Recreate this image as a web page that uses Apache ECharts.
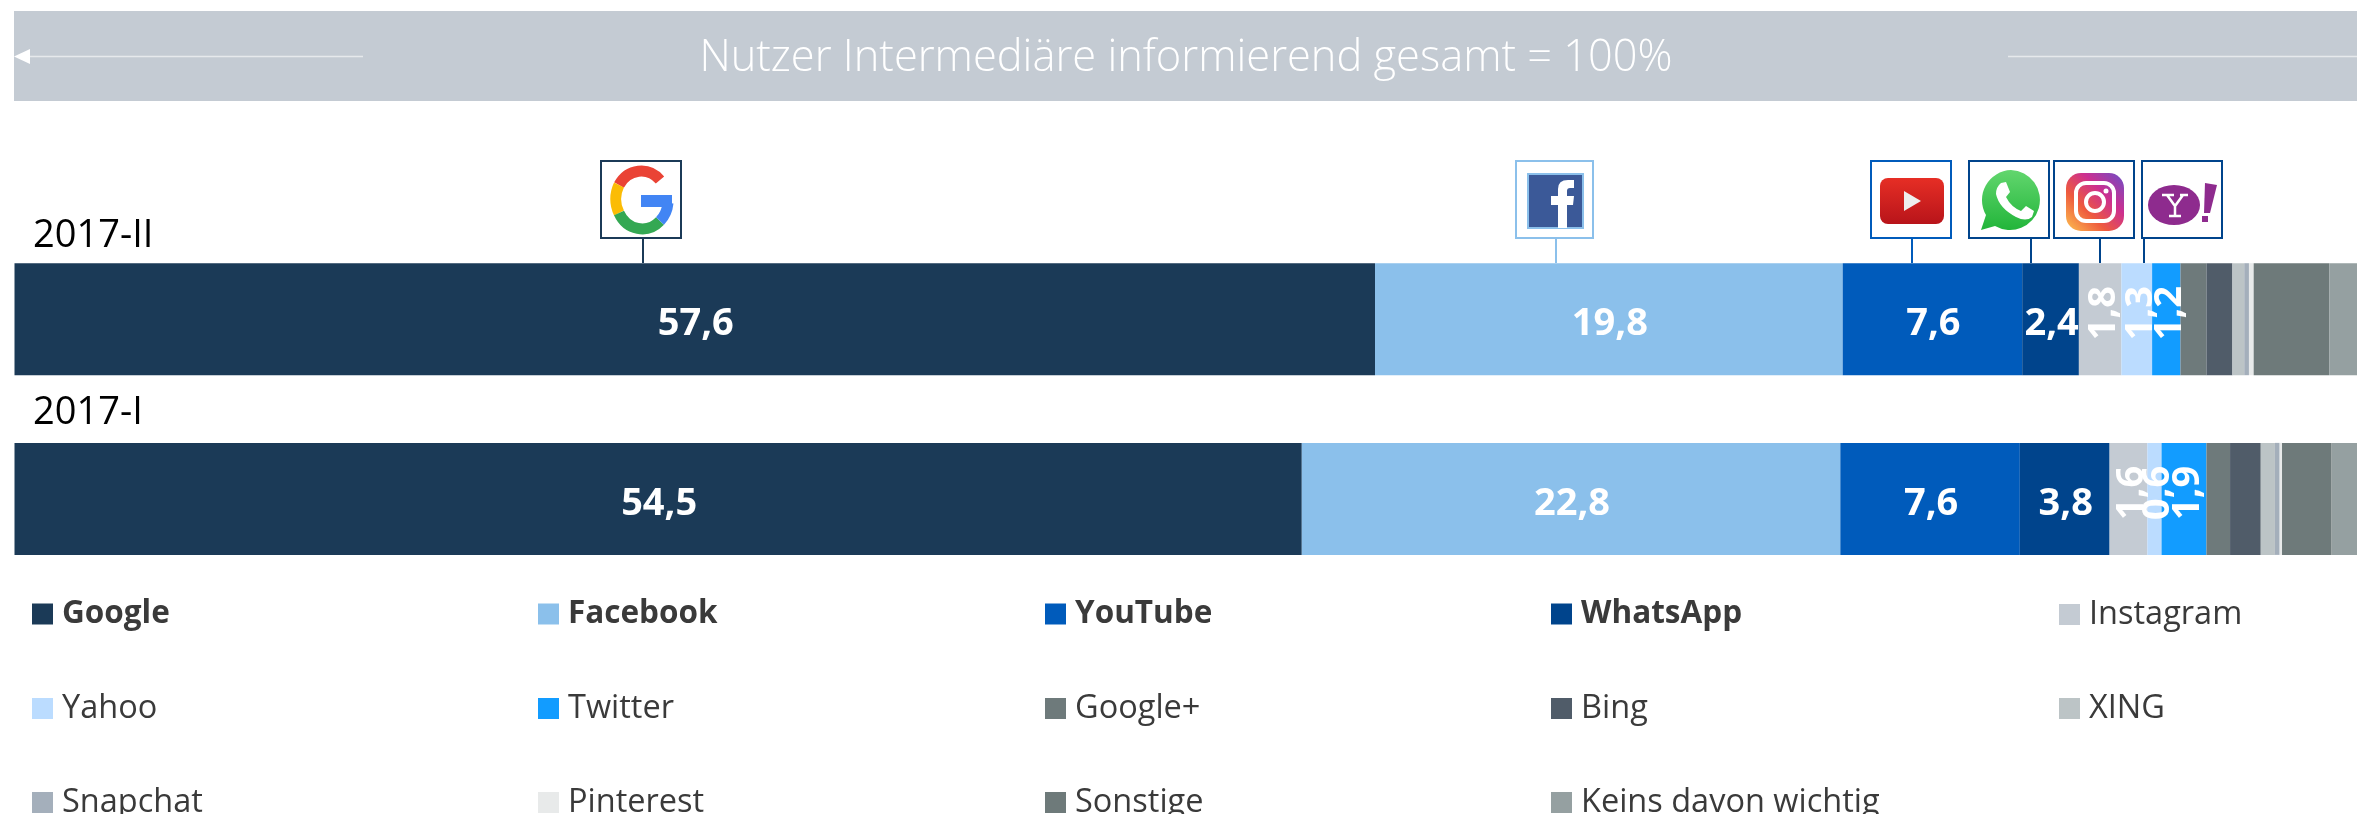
<!DOCTYPE html>
<html><head><meta charset="utf-8">
<style>html,body{margin:0;padding:0;background:#fff;overflow:hidden}#c{width:2357px;height:814px}</style>
<script src="https://cdn.jsdelivr.net/npm/echarts@6/dist/echarts.min.js"></script>
</head><body><div id="c"></div>
<script>
const categories = ['2017-I', '2017-II'];
const names = ['Google','Facebook','YouTube','WhatsApp','Instagram','Yahoo','Twitter','Google+','Bing','XING','Snapchat','Pinterest','Sonstige','Keins davon wichtig'];
const values2017II = [57.6,19.8,7.6,2.4,1.8,1.3,1.2,1.1,1.1,0.5,0.2,0.2,3.2,2.0];
const values2017I  = [54.5,22.8,7.6,3.8,1.6,0.6,1.9,1.0,1.3,0.6,0.2,0.1,2.1,1.9];
const colors = ['#1b3a57','#8bc0eb','#005bbb','#00448c','#c4cbd3','#bbdcff','#129cff','#6e7a7b','#505c69','#bcc4c6','#a4afbb','#e8eaea','#6e7a7a','#95a0a1'];
const boldNames = ['Google','Facebook','YouTube','WhatsApp'];
const rotatedNames = ['Instagram','Yahoo','Twitter'];
const labelledCount = 7;
const titleText = 'Nutzer Intermediäre informierend gesamt = 100%';
const FONT = '"Open Sans"';

function svg(s){return 'data:image/svg+xml;charset=utf-8,'+encodeURIComponent('<svg xmlns="http://www.w3.org/2000/svg" viewBox="0 0 80 77" width="80" height="77">'+s+'</svg>');}
const logos = {
 Google: svg('<g fill="none" stroke-width="11"><path d="M59 19A26 29 0 0 0 18 24" stroke="#ea4335"/><path d="M18 24A26 29 0 0 0 18 52" stroke="#fbbc05"/><path d="M18 52A26 29 0 0 0 59 60" stroke="#34a853"/><path d="M59 60A26 29 0 0 0 67 42" stroke="#4285f4"/></g><rect x="40" y="34" width="31" height="12" fill="#4285f4"/>'),
 Facebook: svg('<rect x="12" y="13" width="55" height="54" fill="#3b5998" stroke="#8bc0eb" stroke-width="2"/><path d="M42 67V44H35V35H42V28Q42 19 52 19H58V27H54Q51 27 51 30V35H58L57 44H51V67Z" fill="#fff"/>'),
 YouTube: svg('<defs><linearGradient id="y" x1="0" y1="0" x2="0" y2="1"><stop offset="0" stop-color="#e62e25"/><stop offset="1" stop-color="#b8141a"/></linearGradient></defs><rect x="9" y="17" width="64" height="46" rx="8" fill="url(#y)"/><path d="M33 30V50L50 40Z" fill="#eee"/>'),
 WhatsApp: svg('<defs><linearGradient id="w" x1="0" y1="0" x2="0" y2="1"><stop offset="0" stop-color="#62d66e"/><stop offset="1" stop-color="#22b53a"/></linearGradient></defs><path d="M42 9A30 30 0 1 1 26 65L12 69L17 54A30 30 0 0 1 42 9Z" fill="url(#w)"/><path d="M32 22L37 21L41 31L37 36Q42 46 52 50L57 45L65 50L63 56Q57 61 47 56Q30 47 27 33Q27 26 32 22Z" fill="#fff"/>'),
 Instagram: svg('<defs><linearGradient id="i" x1="0" y1="1" x2="1" y2="0"><stop offset="0" stop-color="#fdc14f"/><stop offset=".35" stop-color="#ee5a3e"/><stop offset=".65" stop-color="#cc2f90"/><stop offset="1" stop-color="#6b4fc8"/></linearGradient></defs><rect x="12" y="12" width="58" height="58" rx="15" fill="url(#i)"/><rect x="22" y="22" width="38" height="38" rx="10" fill="none" stroke="#fff" stroke-width="4"/><circle cx="41" cy="41" r="9" fill="none" stroke="#fff" stroke-width="4"/><circle cx="52" cy="30" r="2.5" fill="#fff"/>'),
 Yahoo: svg('<ellipse cx="32" cy="44" rx="26" ry="20" fill="#8e2b8e"/><path d="M20 34H32M38 34H46M25 34L33 45L41 34M33 45V55M27 55H39" fill="none" stroke="#fff" stroke-width="2.5"/><path d="M63 22L75 24L68 52H62Z" fill="#8e2b8e"/><rect x="60" y="55" width="6" height="6" fill="#8e2b8e"/>')
};
const callouts = [
 {name:'Google',   left:601, w:80, lineX:643, color:'#1b3a57'},
 {name:'Facebook', left:1516, w:77, lineX:1556, color:'#8bc0eb'},
 {name:'YouTube',  left:1871, w:80, lineX:1912, color:'#005bbb'},
 {name:'WhatsApp', left:1969, w:80, lineX:2031, color:'#00448c'},
 {name:'Instagram',left:2054, w:80, lineX:2100, color:'#00448c'},
 {name:'Yahoo',    left:2142, w:80, lineX:2144, color:'#00448c'}
];

const graphics = [
 {type:'rect',silent:true,shape:{x:14,y:11,width:2343,height:90},style:{fill:'#c4cbd3'}},
 {type:'line',silent:true,shape:{x1:30,y1:56.5,x2:363,y2:56.5},style:{stroke:'#e6e9ec',lineWidth:1.5}},
 {type:'polygon',silent:true,shape:{points:[[14,56.5],[30,49],[30,64]]},style:{fill:'#fff'}},
 {type:'line',silent:true,shape:{x1:2008,y1:56.5,x2:2357,y2:56.5},style:{stroke:'#e6e9ec',lineWidth:1.5}},
 {type:'text',silent:true,x:1186,y:59,style:{text:titleText,fill:'#fff',font:'300 43.4px '+FONT,textAlign:'center',textVerticalAlign:'middle'}},
 {type:'text',silent:true,x:33,y:236,style:{text:categories[1],fill:'#000',font:'38px '+FONT,textAlign:'left',textVerticalAlign:'middle'}},
 {type:'text',silent:true,x:33,y:413,style:{text:categories[0],fill:'#000',font:'38px '+FONT,textAlign:'left',textVerticalAlign:'middle'}}
];
callouts.forEach(c=>{
 graphics.push({type:'line',silent:true,shape:{x1:c.lineX,y1:238,x2:c.lineX,y2:263},style:{stroke:c.color,lineWidth:2}});
 graphics.push({type:'rect',silent:true,shape:{x:c.left,y:161,width:c.w,height:77},style:{fill:'#fff',stroke:c.color,lineWidth:2}});
 graphics.push({type:'image',silent:true,style:{image:logos[c.name],x:c.left,y:161,width:80,height:77}});
});

const colX = [32,538,1045,1551,2059], rowY = [598,692,786];
const legends = names.map((n,i)=>({
  data:[n], left:colX[i%5], top:rowY[Math.floor(i/5)], orient:'horizontal', padding:0,
  icon:'rect', itemWidth:21, itemHeight:21, selectedMode:false,
  textStyle:{fontFamily:FONT,fontSize:boldNames.includes(n)?31.5:32.5,color:'#3a3a3a',fontWeight:boldNames.includes(n)?'bold':'normal',padding:[0,0,0,4]}
}));

const series = names.map((n,i)=>({
  name:n,type:'bar',stack:'total',barWidth:112,
  itemStyle:{color:colors[i]},
  data:[values2017I[i],values2017II[i]],
  label:{show:i<labelledCount,position:'inside',color:'#fff',fontFamily:FONT,fontWeight:'bold',fontSize:38,
    rotate:rotatedNames.includes(n)?90:0,
    formatter:p=>p.value.toFixed(1).replace('.',',')},
  labelLayout:rotatedNames.includes(n)?{dx:6,dy:4}:{dx:1,dy:5},
  emphasis:{disabled:true},animation:false
}));

const chart = echarts.init(document.getElementById('c'),null,{renderer:'canvas'});
chart.setOption({
  animation:false,
  backgroundColor:'#fff',
  tooltip:{show:false},
  grid:{left:14.5,top:229.35,width:2362,height:359.4,containLabel:false,outerBoundsMode:'none'},
  xAxis:{type:'value',min:0,max:100,show:false},
  yAxis:{type:'category',data:categories,show:false},
  legend:legends,
  series:series,
  graphic:graphics
});
</script></body></html>
